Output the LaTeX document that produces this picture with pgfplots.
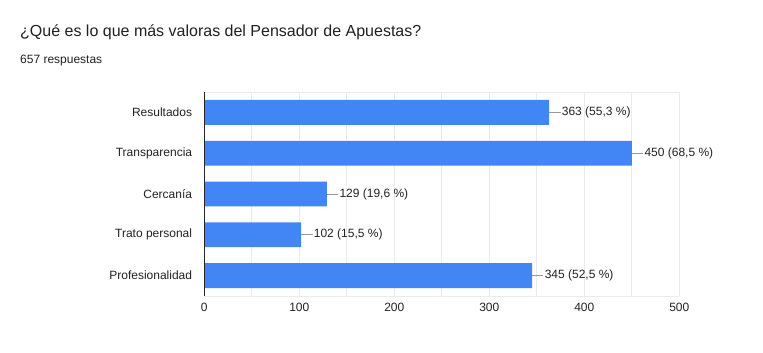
\documentclass[border=0pt]{standalone}
\usepackage{pgfplots}
\pgfplotsset{compat=1.18}
\usepackage{fontspec}
\setmainfont{Liberation Sans}
\definecolor{barblue}{HTML}{4285F4}
\definecolor{gridc}{HTML}{EBEBEB}
\definecolor{txt}{HTML}{222222}
\definecolor{ttl}{HTML}{202124}
\definecolor{lead}{HTML}{999999}
\begin{document}
\begin{tikzpicture}[x=1pt,y=1pt]
\fill[white] (0,0) rectangle (763,353);
\node[anchor=base west, inner sep=0pt, text=ttl, font=\fontsize{16}{18}\selectfont] at (20,353-37) {¿Qué es lo que más valoras del Pensador de Apuestas?};
\node[anchor=base west, inner sep=0pt, text=txt, font=\fontsize{12}{14}\selectfont] at (20,353-64) {657 respuestas};
\begin{axis}[
  at={(204.3pt,57pt)}, anchor=south west,
  scale only axis, width=475pt, height=204pt,
  xmin=0, xmax=500, ymin=-0.5, ymax=4.5, y dir=reverse,
  axis line style={draw=none},
  xtick={0,100,...,500}, minor xtick={50,150,...,450},
  ytick={0,1,2,3,4},
  yticklabels={Resultados,Transparencia,Cercanía,Trato personal,Profesionalidad},
  xmajorgrids, xminorgrids,
  major grid style={gridc, line width=0.8pt},
  minor grid style={gridc, line width=0.8pt},
  major tick length=0pt, minor tick length=0pt,
  tick style={draw=none},
  /pgf/number format/assume math mode=true,
  ticklabel style={font=\fontsize{12}{14}\selectfont, text=txt, inner sep=0pt},
  yticklabel style={anchor=east, xshift=-12pt},
  xticklabel style={anchor=north, yshift=-7pt},
  clip=false,
]
\draw[gridc, line width=0.8pt] (axis cs:0,-0.5) -- (axis cs:500,-0.5);
\draw[gridc, line width=0.8pt] (axis cs:0,4.5) -- (axis cs:500,4.5);
\addplot[xbar, bar width=0.61, fill=barblue, draw=none,
  error bars/.cd, x dir=plus, x fixed=12, error mark=none,
  error bar style={lead, line width=0.8pt}]
  table[x=v, y=i] {
v i
363 0
450 1
129 2
102 3
345 4
};
\addplot[only marks, mark=none,
  point meta=explicit symbolic,
  nodes near coords,
  nodes near coords style={anchor=west, inner sep=0pt, xshift=12.5pt, text=txt, font=\fontsize{12}{14}\selectfont}]
  table[x=v, y=i, meta=lab, col sep=semicolon] {
v;i;lab
363;0;363 (55,3 \%)
450;1;450 (68,5 \%)
129;2;129 (19,6 \%)
102;3;102 (15,5 \%)
345;4;345 (52,5 \%)
};
\draw[black!85, line width=1pt] (axis cs:0,-0.5) -- (axis cs:0,4.5);
\end{axis}
\end{tikzpicture}
\end{document}
